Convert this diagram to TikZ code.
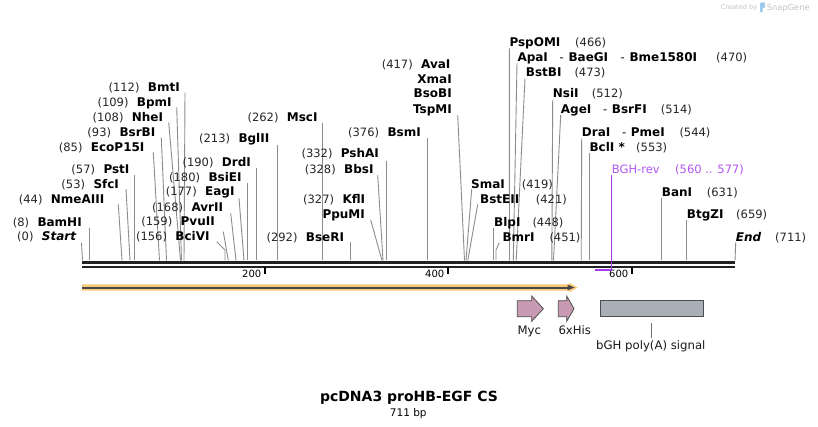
\documentclass[tikz,border=0pt]{standalone}
\usepackage{fontspec}
\setmainfont{DejaVu Sans}
\definecolor{connc}{HTML}{8C8C8C}
\definecolor{bbc}{HTML}{222222}
\definecolor{orglow}{HTML}{FAC97A}
\definecolor{cdsline}{HTML}{474747}
\definecolor{mycc}{HTML}{C99AB3}
\definecolor{polyac}{HTML}{A9AFB6}
\definecolor{primerc}{HTML}{A53DE6}
\definecolor{primertxt}{HTML}{B356F2}
\definecolor{logoc}{HTML}{C4C4C4}
\definecolor{logoblue}{HTML}{9CCBEB}
\tikzset{
  rsenz/.style={font=\fontsize{12}{14}\selectfont\bfseries, inner sep=0pt, text=black},
  rsnum/.style={font=\fontsize{11.5}{13}\selectfont, inner sep=0pt, text=black!85},
  rsconn/.style={draw=connc, line width=0.9pt},
  rstick/.style={font=\fontsize{10}{12}\selectfont, inner sep=0pt, text=black},
  rsfeat/.style={font=\fontsize{11.7}{13}\selectfont, inner sep=0pt, text=black!90},
  featedge/.style={draw=black!70, line width=0.8pt},
}
% left-type label: number before name
\newcommand\rsL[5]{%
  \node[rsenz,anchor=base west] (#1) at (#2,#3+4.4) {#4};
  \node[rsnum,anchor=base east] (#1-n) at ([xshift=-8pt]#1.base west) {#5};}
% right-type label: number after name at absolute x
\newcommand\rsR[6]{%
  \node[rsenz,anchor=base west] (#1) at (#2,#3+4.4) {#4};
  \node[rsnum,anchor=base west] (#1-n) at (#5,#3+4.4) {#6};}
% dash between names
\newcommand\rsD[3]{\node[rsnum,anchor=base west,text=black] (#1) at (#2,#3+4.4) {-};}
% connector from label to backbone
\newcommand\rsCut[4]{%
  \coordinate (#1-t) at (#2,#3); \coordinate (#1-b) at (#4,260.5);
  \draw[rsconn] (#1-t) -- (#1-b);}
\newcommand\rsCutB[5]{%
  \coordinate (#1-t) at (#2,#3); \coordinate (#1-m) at (#4,#5); \coordinate (#1-b) at (#4,260.5);
  \draw[rsconn] (#1-t) -- (#1-m) -- (#1-b);}
\begin{document}
\begin{tikzpicture}[x=1pt,y=-1pt]
\useasboundingbox (0,0) rectangle (818,427);
\fill[white] (0,0) rectangle (818,427);

% ---------- connectors ----------
\rsCut{cBmtI}{185}{92.7}{184}
\rsCut{cBpmI}{176.7}{107.3}{181.5}
\rsCut{cNheI}{168.7}{122.3}{180.5}
\rsCut{cBsrBI}{161.3}{137.7}{166.5}
\rsCut{cEcoP}{153.3}{152.3}{159.5}
\rsCut{cPstI}{134.2}{175}{134.2}
\rsCut{cSfcI}{126}{189}{130}
\rsCut{cNme}{118.3}{204.3}{122}
\rsCut{cBamHI}{89.3}{228.3}{89.3}
\rsCut{cStart}{81.5}{242.7}{82.5}
\rsCut{cDrdI}{256.7}{168.3}{256.7}
\rsCut{cBsiEI}{247.3}{183.3}{247.3}
\rsCut{cEagI}{239}{198.3}{244}
\rsCut{cAvrII}{230.7}{213.3}{236}
\rsCut{cPvuII}{223.3}{231.7}{228.3}
\rsCutB{cBciVI}{216.7}{241.7}{225}{250}
\rsCut{cBglII}{277.3}{145}{277.3}
\rsCut{cMscI}{322.5}{122.7}{322.5}
\rsCut{cBseRI}{350.7}{242.3}{350.7}
\rsCut{cPshAI}{386}{160.7}{386}
\rsCut{cBbsI}{377.7}{175}{383}
\rsCut{cPpuMI}{370.7}{220}{382}
\rsCut{cBsmI}{427.3}{137.7}{427.3}
\rsCut{cTspMI}{457.7}{115}{464.5}
\rsCut{cSmaI}{471.7}{189.3}{466}
\rsCut{cBstEII}{477.7}{204.3}{467.8}
\rsCut{cBlpI}{493.3}{228.3}{493.3}
\rsCutB{cBmrI}{499.3}{242.7}{496}{250}
\rsCut{cPspOMI}{509.3}{48.3}{509.5}
\rsCut{cApaI}{517}{63.3}{513.3}
\rsCut{cBstBI}{525}{78.3}{516.2}
\rsCut{cNsiI}{552.7}{100}{551.8}
\rsCut{cAgeI}{560.7}{115}{553.5}
\rsCut{cDraI}{581.7}{138.3}{581.2}
\rsCut{cBclI}{589.3}{153.3}{589.3}
\rsCut{cBanI}{661.7}{198.3}{661.7}
\rsCut{cBtgZI}{686.7}{220}{686.7}
\rsCut{cEnd}{735.7}{242.3}{735}

% ---------- backbone ----------
\coordinate (bbL1) at (82,262.3); \coordinate (bbR1) at (735,262.3);
\coordinate (bbL2) at (82,266.7); \coordinate (bbR2) at (735,266.7);
\draw[bbc, line width=2.7pt] (bbL1) -- (bbR1);
\draw[bbc, line width=2pt] (bbL2) -- (bbR2);

% ticks
\foreach \xx/\lab in {265/200, 448/400, 632/600}{
  \coordinate (tk\lab a) at (\xx,267.5); \coordinate (tk\lab b) at (\xx,274.3);
  \draw[black, line width=2pt] (tk\lab a) -- (tk\lab b);
  \node[rstick, anchor=base east] (tl\lab) at (\xx-3.5,277.7) {\lab};
}

% ---------- primer ----------
\coordinate (prT) at (611.5,175); \coordinate (prB) at (611.5,271.5);
\coordinate (prL) at (595,270.3); \coordinate (prR) at (612,270.3);
\draw[primerc, line width=1.2pt] (prT) -- (prB);
\draw[primerc, line width=2.4pt] (prL) -- (prR);

% ---------- labels: left group ----------
\rsL{BmtI}{147.7}{86.7}{BmtI}{(112)}
\rsL{BpmI}{136.7}{102}{BpmI}{(109)}
\rsL{NheI}{131.7}{117}{NheI}{(108)}
\rsL{BsrBI}{119.3}{132}{BsrBI}{(93)}
\rsL{EcoP15I}{90.7}{146.7}{EcoP15I}{(85)}
\rsL{PstI}{103.3}{169}{PstI}{(57)}
\rsL{SfcI}{93.3}{184}{SfcI}{(53)}
\rsL{NmeAIII}{50.7}{198.7}{NmeAIII}{(44)}
\rsL{BamHI}{37.3}{221.7}{BamHI}{(8)}
\rsL{Start}{41.7}{236.3}{\itshape Start}{(0)}
% middle group
\rsL{DrdI}{221.7}{161.7}{DrdI}{(190)}
\rsL{BsiEI}{208.3}{176.7}{BsiEI}{(180)}
\rsL{EagI}{205}{191.5}{EagI}{(177)}
\rsL{AvrII}{191.3}{206.7}{AvrII}{(168)}
\rsL{PvuII}{180.5}{221.5}{PvuII}{(159)}
\rsL{BciVI}{175.2}{236.5}{BciVI}{(156)}
\rsL{BglII}{238.3}{138.3}{BglII}{(213)}
\rsL{MscI}{286.7}{116.7}{MscI}{(262)}
\rsL{BseRI}{305.7}{236.7}{BseRI}{(292)}
\rsL{PshAI}{340.7}{153.3}{PshAI}{(332)}
\rsL{BbsI}{344}{169}{BbsI}{(328)}
\rsL{KflI}{342.3}{199}{KflI}{(327)}
\node[rsenz,anchor=base west] (PpuMI) at (322.3,214+4.4) {PpuMI};
\rsL{BsmI}{387.3}{131.7}{BsmI}{(376)}
\rsL{AvaI}{421}{64}{AvaI}{(417)}
\node[rsenz,anchor=base east] (XmaI) at (452,78.7+4.4) {XmaI};
\node[rsenz,anchor=base east] (BsoBI) at (452,93.3+4.4) {BsoBI};
\node[rsenz,anchor=base east] (TspMI) at (452,108.7+4.4) {TspMI};

% ---------- labels: right group ----------
\rsR{SmaI}{471}{184}{SmaI}{521.7}{(419)}
\rsR{BstEII}{480}{199}{BstEII}{535.7}{(421)}
\rsR{BlpI}{494}{221.7}{BlpI}{532.3}{(448)}
\rsR{BmrI}{502.3}{236.7}{BmrI}{549.3}{(451)}
\rsR{PspOMI}{509.3}{41.7}{PspOMI}{575}{(466)}
\rsR{ApaI}{517.3}{56.7}{ApaI}{716}{(470)}
\rsD{ApaI-d1}{559.5}{56.7}
\node[rsenz,anchor=base west] (BaeGI) at (568.3,56.7+4.4) {BaeGI};
\rsD{ApaI-d2}{620.5}{56.7}
\node[rsenz,anchor=base west] (Bme1580I) at (629.3,56.7+4.4) {Bme1580I};
\rsR{BstBI}{525.7}{71.7}{BstBI}{574.3}{(473)}
\rsR{NsiI}{552.7}{93.3}{NsiI}{591.7}{(512)}
\rsR{AgeI}{560.7}{109}{AgeI}{660.7}{(514)}
\rsD{AgeI-d}{603}{109}
\node[rsenz,anchor=base west] (BsrFI) at (611.7,109+4.4) {BsrFI};
\rsR{DraI}{581.7}{131.7}{DraI}{679.3}{(544)}
\rsD{DraI-d}{622}{131.7}
\node[rsenz,anchor=base west] (PmeI) at (630.7,131.7+4.4) {PmeI};
\rsR{BclI}{589.3}{146.7}{BclI *}{636}{(553)}
\node[rsnum,anchor=base west,text=primertxt] (BGHrev) at (611.7,169+4.4) {BGH-rev};
\node[rsnum,anchor=base west,text=primertxt] (BGHrev-n) at (675,169+4.4) {(560 .. 577)};
\rsR{BanI}{661.7}{192.3}{BanI}{706.7}{(631)}
\rsR{BtgZI}{686.7}{214}{BtgZI}{736}{(659)}
\rsR{End}{735.7}{236.7}{\itshape End}{775}{(711)}

% ---------- features ----------
\fill[orglow] (82,284.3) -- (569,284.3) -- (569,282.6) -- (577.5,287.5) -- (569,292.4) -- (569,290.7) -- (82,290.7) -- cycle;
\coordinate (cdsL) at (82,287.5); \coordinate (cdsR) at (569,287.5);
\draw[cdsline, line width=2pt] (cdsL) -- (cdsR);
\fill[cdsline] (567.5,284.6) -- (574.5,287.5) -- (567.5,290.4) -- cycle;

\draw[featedge, fill=mycc] (517.3,300.7) -- (531.7,300.7) -- (531.7,296) -- (543.3,308.7) -- (531.7,321.3) -- (531.7,316.7) -- (517.3,316.7) -- cycle;
\draw[featedge, fill=mycc] (558.3,300.7) -- (566.7,300.7) -- (566.7,296) -- (574,308.7) -- (566.7,321.3) -- (566.7,316.7) -- (558.3,316.7) -- cycle;
\draw[featedge, fill=polyac] (600,300) rectangle (703.7,316.7);
\coordinate (paT) at (651.7,323.3); \coordinate (paB) at (651.7,338.3);
\draw[connc!80!black, line width=0.8pt] (paT) -- (paB);

\node[rsfeat,anchor=base west] (Myc) at (517.3,334.5) {Myc};
\node[rsfeat,anchor=base west] (His) at (558.3,334.5) {6xHis};
\node[rsfeat,anchor=base west] (bGH) at (596,349.8) {bGH poly(A) signal};

% ---------- title ----------
\node[font=\fontsize{14}{16}\selectfont\bfseries, inner sep=0pt, anchor=base] (title) at (409,401.2) {pcDNA3 proHB-EGF CS};
\node[font=\fontsize{10.5}{12}\selectfont, inner sep=0pt, anchor=base] (size) at (408.3,416) {711 bp};

% ---------- logo ----------
\node[font=\fontsize{6.6}{8}\selectfont, text=logoc, inner sep=0pt, anchor=base west] (created) at (720.7,9.7) {Created by};
\fill[logoblue, rounded corners=1pt] (760,2.5) -- (765,2.5) -- (765,8) -- (762.6,8) -- (762.6,12.5) -- (760,12.5) -- cycle;
\node[font=\fontsize{8.3}{10}\selectfont, text=logoc, inner sep=0pt, anchor=base west] (snapgene) at (766.7,10.3) {SnapGene};
\end{tikzpicture}
\end{document}
